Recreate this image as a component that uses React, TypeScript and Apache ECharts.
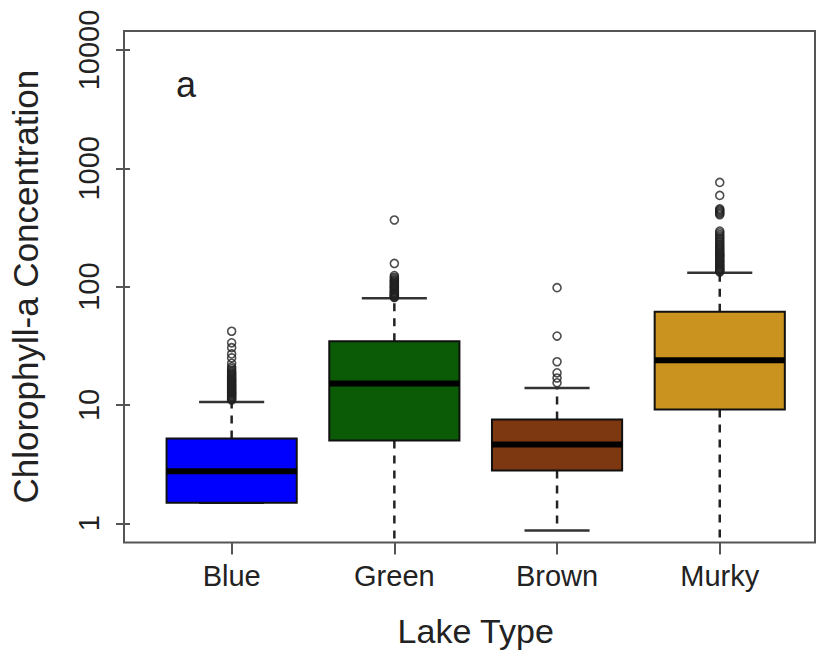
import React, { useEffect, useRef } from "react";
import * as echarts from "echarts";

const categories = ["Blue", "Green", "Brown", "Murky"];
const lowerWhisker = [1.49, 0.5, 0.87, 0.5];
const q1 = [1.49, 5.0, 2.79, 9.16];
const median = [2.75, 15.2, 4.63, 23.9];
const q3 = [5.21, 34.6, 7.54, 61.3];
const upperWhisker = [10.6, 79.6, 13.9, 131];
const boxColors = ["#0000fe", "#0a5a06", "#7d3811", "#ca921f"];

const blueOutliers = [11.0, 11.2, 11.4, 11.6, 11.8, 12.0, 12.2, 12.4, 12.6, 12.8, 13.0, 13.2, 13.5, 13.7, 13.9, 14.2, 14.4, 14.6, 14.9, 15.2, 15.5, 15.8, 16.1, 16.4, 16.7, 17.0, 17.4, 17.8, 18.2, 18.6, 19.0, 19.6, 20.3, 21.0, 22.5, 25.0, 27.0, 30.5, 33.5, 42.0];
const greenOutliers = [81, 82, 83, 84, 85, 86, 88, 89, 90, 92, 93, 95, 97, 99, 100, 102, 104, 106, 108, 110, 112, 114, 117, 120, 124, 157, 366];
const brownOutliers = [15.4, 16.9, 18.7, 23.2, 38.2, 98];
const murkyOutliers = [133, 135, 138, 140, 142, 145, 148, 150, 153, 156, 160, 163, 166, 170, 174, 178, 182, 186, 190, 195, 200, 205, 210, 216, 222, 228, 235, 242, 250, 258, 266, 275, 285, 295, 405, 415, 425, 435, 445, 455, 590, 760];

const yTicks = [1, 10, 100, 1000, 10000];
const yTitle = "Chlorophyll-a Concentration";
const xTitle = "Lake Type";
const panelLabel = "a";

const FONT = "'Liberation Sans', Arial, Helvetica, sans-serif";

export default function App() {
  const ref = useRef<HTMLDivElement>(null);
  useEffect(() => {
    if (!ref.current) return;
    const chart = echarts.init(ref.current, null, { renderer: "svg" });
    const boxData = categories.map((_, i) => [i, lowerWhisker[i], q1[i], median[i], q3[i], upperWhisker[i]]);
    const outlierGroups = [blueOutliers, greenOutliers, brownOutliers, murkyOutliers];
    const outlierData: number[][] = [];
    outlierGroups.forEach((g, i) => g.forEach((v) => outlierData.push([i, v])));

    const frameL = 124, frameT = 31, frameR = 815, frameB = 542.5;
    const tickTop = 50, tickBottom = 523.3;
    const decade = (tickBottom - tickTop) / 4;
    const yMin = Math.pow(10, -(frameB - tickBottom) / decade);
    const yMax = Math.pow(10, 4 + (tickTop - frameT) / decade);

    const option: any = {
      animation: false,
      backgroundColor: "#ffffff",
      grid: [
        { left: 150.3, top: frameT, width: 650.8, height: frameB - frameT },
        { left: frameL, top: tickTop, width: frameR - frameL, height: tickBottom - tickTop },
      ],
      xAxis: [
        {
          type: "category",
          gridIndex: 0,
          data: categories,
          axisLine: { show: false },
          axisTick: { show: true, alignWithLabel: true, length: 12, lineStyle: { color: "#555", width: 2 } },
          axisLabel: { fontSize: 29, margin: 19, color: "#222", fontFamily: FONT },
          splitLine: { show: false },
          name: xTitle,
          nameLocation: "middle",
          nameGap: 71,
          nameTextStyle: { fontSize: 34, color: "#222", fontFamily: FONT },
        },
        { type: "value", gridIndex: 1, min: 0, max: 1, show: false },
      ],
      yAxis: [
        { type: "log", gridIndex: 0, min: yMin, max: yMax, show: false },
        {
          type: "log",
          gridIndex: 1,
          logBase: 10,
          min: yTicks[0],
          max: yTicks[yTicks.length - 1],
          axisLine: { show: false },
          axisTick: { show: true, length: 14, lineStyle: { color: "#555", width: 2 } },
          axisLabel: {
            rotate: 90,
            fontSize: 29,
            margin: 27,
            color: "#222",
            fontFamily: FONT,
            formatter: (v: number) => String(Math.round(v)),
          },
          minorTick: { show: false },
          splitLine: { show: false },
          name: yTitle,
          nameLocation: "middle",
          nameGap: 87,
          nameTextStyle: { fontSize: 35, color: "#222", fontFamily: FONT },
        },
      ],
      graphic: [
        {
          type: "rect",
          shape: { x: frameL, y: frameT, width: frameR - frameL, height: frameB - frameT },
          style: { fill: "none", stroke: "#555", lineWidth: 2 },
          z: 100,
        },
        {
          type: "text",
          x: 176,
          y: 84,
          style: { text: panelLabel, font: `36px ${FONT}`, fill: "#222", verticalAlign: "middle" },
          z: 100,
        },
      ],
      series: [
        {
          type: "custom",
          xAxisIndex: 0,
          yAxisIndex: 0,
          clip: true,
          data: boxData,
          encode: { x: 0, y: [1, 2, 3, 4, 5] },
          renderItem: (params: any, api: any) => {
            const idx = api.value(0);
            const band = api.size([1, 0])[0];
            const hb = band * 0.4;
            const hc = band * 0.2;
            const cx = api.coord([idx, api.value(3)])[0];
            const yLw = api.coord([idx, api.value(1)])[1];
            const yQ1 = api.coord([idx, api.value(2)])[1];
            const yMed = api.coord([idx, api.value(3)])[1];
            const yQ3 = api.coord([idx, api.value(4)])[1];
            const yUw = api.coord([idx, api.value(5)])[1];
            const dash = { stroke: "#222", lineWidth: 2.5, lineDash: [8, 7] };
            const cap = { stroke: "#333", lineWidth: 2.5 };
            return {
              type: "group",
              children: [
                { type: "line", shape: { x1: cx, y1: yQ3, x2: cx, y2: yUw }, style: dash },
                { type: "line", shape: { x1: cx, y1: yQ1, x2: cx, y2: yLw }, style: dash },
                { type: "line", shape: { x1: cx - hc, y1: yUw, x2: cx + hc, y2: yUw }, style: cap },
                { type: "line", shape: { x1: cx - hc, y1: yLw, x2: cx + hc, y2: yLw }, style: cap },
                {
                  type: "rect",
                  shape: { x: cx - hb, y: yQ3, width: 2 * hb, height: yQ1 - yQ3 },
                  style: { fill: boxColors[idx], stroke: "#111", lineWidth: 2 },
                },
                { type: "line", shape: { x1: cx - hb, y1: yMed, x2: cx + hb, y2: yMed }, style: { stroke: "#000", lineWidth: 6 } },
              ],
            };
          },
        },
        {
          type: "scatter",
          xAxisIndex: 0,
          yAxisIndex: 0,
          data: outlierData,
          symbol: "circle",
          symbolSize: 8,
          itemStyle: { color: "rgba(255,255,255,0)", borderColor: "#222", borderWidth: 1.6 },
          z: 5,
        },
      ],
    };
    chart.setOption(option);
    return () => chart.dispose();
  }, []);
  return <div ref={ref} style={{ position: "fixed", left: 0, top: 0, width: 821, height: 657 }} />;
}
